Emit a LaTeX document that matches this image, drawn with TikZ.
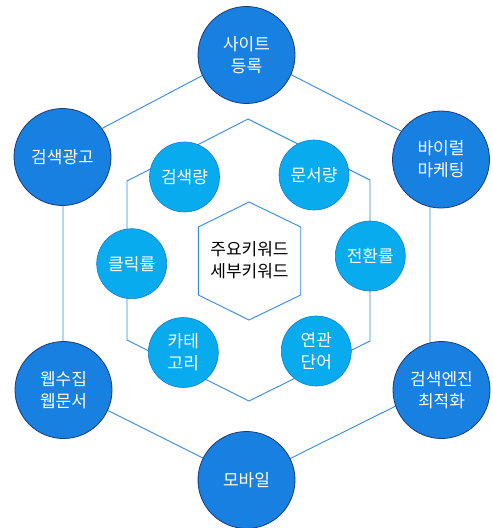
\documentclass[tikz,border=0pt]{standalone}
\usepackage{fontspec}
\setmainfont{Noto Sans CJK KR}

\definecolor{outerblue}{RGB}{24,128,224}
\definecolor{outerrim}{RGB}{28,58,118}
\definecolor{innerblue}{RGB}{8,172,238}
\definecolor{innerrim}{RGB}{26,122,204}
\definecolor{hexline}{RGB}{50,138,230}

\begin{document}
\begin{tikzpicture}[x=1pt, y=-1pt,
	outer/.style={circle, fill=outerblue, draw=outerrim, line width=0.8pt, minimum size=97pt, inner sep=0pt, text=white, align=center, font=\fontsize{17}{22}\selectfont},
	inner/.style={circle, fill=innerblue, draw=innerrim, line width=0.6pt, minimum size=70pt, inner sep=0pt, text=white, align=center, font=\fontsize{17}{22}\selectfont},
	hex/.style={draw=hexline, line width=0.9pt}]

	\useasboundingbox (0,0) rectangle (493,528);

	% outer hexagon
	\coordinate (o1) at (247,52);  \coordinate (o2) at (430,146);
	\coordinate (o3) at (430,389); \coordinate (o4) at (247,480);
	\coordinate (o5) at (63,388);  \coordinate (o6) at (63,149);
	\draw[hex] (o1) -- (o2) -- (o3) -- (o4) -- (o5) -- (o6) -- cycle;

	% inner hexagon
	\coordinate (i1) at (248,119); \coordinate (i2) at (370,180);
	\coordinate (i3) at (370,341); \coordinate (i4) at (249,401);
	\coordinate (i5) at (127,340); \coordinate (i6) at (127,181);
	\draw[hex] (i1) -- (i2) -- (i3) -- (i4) -- (i5) -- (i6) -- cycle;

	% core hexagon
	\coordinate (c1) at (249,202);   \coordinate (c2) at (300.7,227);
	\coordinate (c3) at (300.7,295); \coordinate (c4) at (249,320);
	\coordinate (c5) at (198.3,295); \coordinate (c6) at (198.3,227);
	\draw[hex] (c1) -- (c2) -- (c3) -- (c4) -- (c5) -- (c6) -- cycle;
	\node[align=center, font=\fontsize{17}{22}\selectfont] (core) at (249.5,260) {주요키워드\\세부키워드};

	% outer ring
	\node[outer] (site)   at (246.5,55)  {사이트\\등록};
	\node[outer] (viral)  at (441,159.5) {바이럴\\마케팅};
	\node[outer] (seo)    at (441.5,390) {검색엔진\\최적화};
	\node[outer] (mobile) at (246.5,480) {모바일};
	\node[outer] (crawl)  at (63.5,390)  {웹수집\\웹문서};
	\node[outer] (ads)    at (62.5,157)  {검색광고};

	% inner ring
	\node[inner] (volume)   at (184.5,177)   {검색량};
	\node[inner] (docs)     at (314,175)     {문서량};
	\node[inner] (convert)  at (370.3,256)   {전환률};
	\node[inner] (related)  at (316.3,351)   {연관\\단어};
	\node[inner] (category) at (183.3,352.5) {카테\\고리};
	\node[inner] (click)    at (131.7,263.7) {클릭률};

\end{tikzpicture}
\end{document}
